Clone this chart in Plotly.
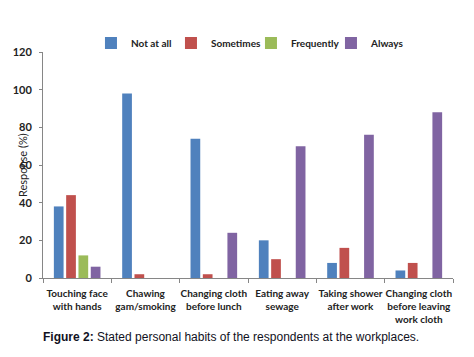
import plotly.graph_objects as go

categories = [
    "Touching face<br>with hands",
    "Chawing<br>gam/smoking",
    "Changing cloth<br>before lunch",
    "Eating away<br>sewage",
    "Taking shower<br>after work",
    "Changing cloth<br>before leaving<br>work cloth",
]
not_at_all = [38, 98, 74, 20, 8, 4]
sometimes = [44, 2, 2, 10, 16, 8]
frequently = [12, 0, 0, 0, 0, 0]
always = [6, 0, 24, 70, 76, 88]

series = [
    ("Not at all", not_at_all, "#4F81BD"),
    ("Sometimes", sometimes, "#C0504D"),
    ("Frequently", frequently, "#9BBB59"),
    ("Always", always, "#8064A2"),
]

fig = go.Figure()
for name, vals, col in series:
    fig.add_trace(go.Bar(x=categories, y=vals, name=name, marker=dict(color=col, line=dict(width=0))))

font_main = "Lato, Open Sans, sans-serif"
fig.update_layout(
    width=474, height=357,
    margin=dict(l=43, r=21, t=52, b=79),
    paper_bgcolor="white", plot_bgcolor="white",
    barmode="group", bargap=0.28, bargroupgap=0.21,
    font=dict(family=font_main, size=11, color="#222222"),
    showlegend=True,
    legend=dict(orientation="h", x=0.117, xanchor="left", y=1.04, yanchor="middle",
                font=dict(family=font_main, size=10, color="#222222", weight="bold"),
                itemwidth=30, entrywidth=35, entrywidthmode="pixels",
                traceorder="normal", itemclick=False),
    xaxis=dict(showline=True, linecolor="#868686", linewidth=1, ticks="outside",
               tickson="boundaries", ticklen=4, tickcolor="#868686", showgrid=False,
               tickangle=0, automargin=False, ticklabelstandoff=6,
               tickfont=dict(family=font_main, size=10, color="#222222", weight="bold"),
               fixedrange=True),
    yaxis=dict(range=[0, 120], dtick=20, showline=True, linecolor="#868686", linewidth=1,
               ticks="outside", ticklen=3, tickcolor="#868686", showgrid=False, zeroline=False,
               automargin=False, ticklabelstandoff=5,
               tickfont=dict(family=font_main, size=11, color="#222222", weight="bold"),
               fixedrange=True),
    annotations=[
        dict(text="Response (%)", textangle=-90, xref="paper", yref="paper",
             x=-0.051, y=0.5, xanchor="center", yanchor="middle", showarrow=False,
             font=dict(family=font_main, size=11, color="#222222")),
        dict(text="<b>Figure 2:</b> Stated personal habits of the respondents at the workplaces.",
             xref="paper", yref="paper", x=-0.006, y=-0.261, xanchor="left", yanchor="middle",
             showarrow=False,
             font=dict(family="Liberation Sans, Arial, sans-serif", size=12, color="#111122")),
    ],
)

fig.write_html("out.html", post_script="document.body.style.margin='0';",
               config={"displayModeBar": False})
